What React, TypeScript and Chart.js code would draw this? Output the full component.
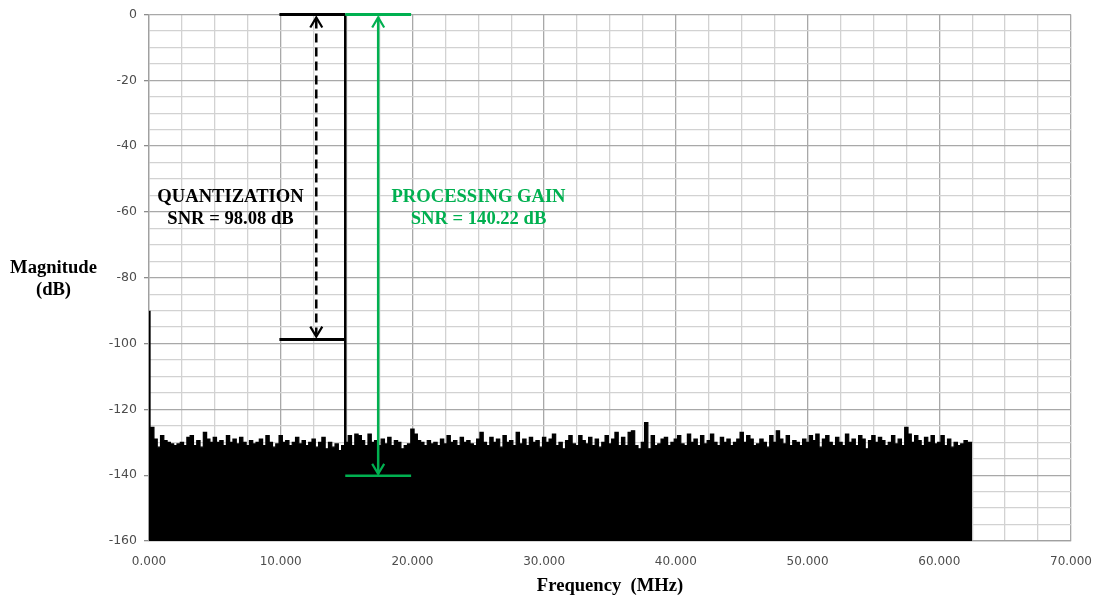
import React, { useEffect, useRef } from "react";
import { Chart, registerables } from "chart.js";

Chart.register(...registerables);

// Noise floor: one value per 0.25 MHz bin from 0 to 62.5 MHz (dB)
const noiseStartMHz = 0;
const noiseStepMHz = 0.25;
const noiseDb = [
  -129.5, -125.5, -129, -131.5, -128, -129.5, -130, -130.5, -131, -130.5,
  -130, -131, -128.5, -128, -131, -129.5, -131.5, -127, -129, -130,
  -128.5, -130, -129.5, -131, -128, -130, -129, -130.5, -128.5, -130,
  -131, -129.5, -130.5, -130, -129, -131, -128, -130, -131.5, -130.5,
  -128, -130, -129.5, -131, -130, -128.5, -130.5, -129.5, -131, -130,
  -129, -131.5, -130, -128.5, -132, -130, -131.5, -130.5, -132.5, -131,
  -130, -128, -131, -127.5, -128, -129.5, -131, -127.5, -130, -129.5,
  -131, -129, -130.5, -128.5, -131, -129.5, -130, -132, -131, -130.5,
  -126, -127.5, -129.5, -130, -131, -129.5, -130.5, -130, -131, -129,
  -130.5, -128, -130, -129.5, -131, -128.5, -130, -129.5, -130.5, -131,
  -129, -127, -130, -131, -128.5, -130, -129, -131.5, -128, -130,
  -129.5, -131, -127, -130.5, -129, -131, -128.5, -130, -129.5, -131.5,
  -128.5, -130, -129, -127.5, -131, -130, -132, -129.5, -128, -130.5,
  -131, -128, -129.5, -130.5, -128.5, -131, -129, -131.5, -130, -128,
  -130.5, -129, -127, -131, -128.5, -131, -127, -126.5, -131, -132,
  -130, -124, -132, -128, -131, -130.5, -129, -128.5, -131, -130,
  -129, -128, -130.5, -131, -127.5, -130, -129, -131, -128, -130.5,
  -129.5, -127.5, -130, -131, -128.5, -130, -129, -131, -130, -129,
  -127, -130, -128, -129, -131, -130.5, -129, -130, -131.5, -128,
  -130, -126.5, -129, -130.5, -128, -131, -129.5, -130, -131, -129,
  -130, -128, -129.5, -127.5, -131.5, -129, -128, -130, -131, -128.5,
  -130, -131, -127.5, -130, -129, -131, -128, -129, -132, -129.5,
  -128, -130, -128.5, -129.5, -131, -130, -128, -130.5, -129, -131,
  -125.5, -127.5, -130, -128, -129.5, -131, -128.5, -130, -128, -130.5,
  -130, -128, -131, -129, -131.5, -130, -131, -130.5, -129.5, -130,
  -130,
];

// Spectral lines: DC bin and the input tone (MHz, dB)
const dcFreqMHz = 0.05;
const dcDb = -90;
const toneFreqMHz = 14.9;
const toneDb = 0;

// Annotation values
const quantBracketMHz = [9.9, 14.9];
const quantLevelsDb = [0, -98.8];
const quantArrowMHz = 12.7;
const gainBracketMHz = [14.9, 19.9];
const gainLevelsDb = [0, -140.2];
const gainArrowMHz = 17.4;
const quantLabel = ["QUANTIZATION", "SNR = 98.08 dB"];
const gainLabel = ["PROCESSING GAIN", "SNR = 140.22 dB"];

const xTitle = "Frequency  (MHz)";
const yTitle = ["Magnitude", "(dB)"];

const xMin = 0, xMax = 70, xMinorStep = 2.5, xMajorStep = 10;
const yMin = -160, yMax = 0, yMinorStep = 5, yMajorStep = 20;

const GREEN = "#00b050";
const MAJOR_GRID = "#a8a8a8";
const MINOR_GRID = "#d2d2d2";

const annotationPlugin = {
  id: "annotations",
  afterDraw(chart: any) {
    const { ctx } = chart;
    const xs = chart.scales.x;
    const ys = chart.scales.y;
    const px = (v: number) => xs.getPixelForValue(v);
    const py = (v: number) => ys.getPixelForValue(v);
    const line = (x1: number, y1: number, x2: number, y2: number) => {
      ctx.beginPath();
      ctx.moveTo(x1, y1);
      ctx.lineTo(x2, y2);
      ctx.stroke();
    };
    const head = (x: number, tipY: number, dir: number) => {
      ctx.beginPath();
      ctx.moveTo(x - 6, tipY + dir * 10);
      ctx.lineTo(x, tipY);
      ctx.lineTo(x + 6, tipY + dir * 10);
      ctx.stroke();
    };
    ctx.save();
    ctx.lineCap = "butt";
    // Quantization bracket
    ctx.strokeStyle = "#000";
    ctx.lineWidth = 3;
    line(px(quantBracketMHz[0]), py(quantLevelsDb[0]), px(quantBracketMHz[1]), py(quantLevelsDb[0]));
    line(px(quantBracketMHz[0]), py(quantLevelsDb[1]), px(quantBracketMHz[1]), py(quantLevelsDb[1]));
    const qx = px(quantArrowMHz);
    const qTop = py(quantLevelsDb[0]) + 3;
    const qBot = py(quantLevelsDb[1]) - 3;
    ctx.lineWidth = 2.5;
    ctx.setLineDash([9, 5]);
    line(qx, qTop + 2, qx, qBot - 2);
    ctx.setLineDash([]);
    ctx.lineWidth = 2.2;
    head(qx, qTop, 1);
    head(qx, qBot, -1);
    // Processing gain bracket
    ctx.strokeStyle = GREEN;
    ctx.lineWidth = 3;
    line(px(gainBracketMHz[0]), py(gainLevelsDb[0]), px(gainBracketMHz[1]), py(gainLevelsDb[0]));
    ctx.lineWidth = 2.5;
    line(px(gainBracketMHz[0]), py(gainLevelsDb[1]), px(gainBracketMHz[1]), py(gainLevelsDb[1]));
    const gx = px(gainArrowMHz);
    const gTop = py(gainLevelsDb[0]) + 3;
    const gBot = py(gainLevelsDb[1]) - 2;
    ctx.lineWidth = 2.5;
    line(gx, gTop, gx, gBot);
    ctx.lineWidth = 2.2;
    head(gx, gTop, 1);
    head(gx, gBot, -1);

    // Texts
    ctx.font = "bold 18.6px 'Liberation Serif', 'Times New Roman', serif";
    ctx.textAlign = "center";
    ctx.textBaseline = "middle";
    ctx.fillStyle = "#000";
    ctx.fillText(quantLabel[0], 230.5, 197);
    ctx.fillText(quantLabel[1], 230.5, 219);
    ctx.fillStyle = GREEN;
    ctx.fillText(gainLabel[0], 478.5, 197);
    ctx.fillText(gainLabel[1], 478.5, 219);
    ctx.fillStyle = "#000";
    ctx.fillText(yTitle[0], 53.5, 268);
    ctx.fillText(yTitle[1], 53.5, 290);
    ctx.fillText(xTitle, 610, 586);
    ctx.restore();
  },
};

export default function App() {
  const ref = useRef<HTMLCanvasElement>(null);
  useEffect(() => {
    if (!ref.current) return;
    const noisePoints = noiseDb.map((v, i) => ({ x: noiseStartMHz + i * noiseStepMHz, y: v }));
    const chart = new Chart(ref.current, {
      type: "line",
      data: {
        datasets: [
          {
            label: "tone",
            data: [{ x: toneFreqMHz, y: yMin }, { x: toneFreqMHz, y: toneDb }],
            borderColor: "#000",
            borderWidth: 2.5,
            pointRadius: 0,
            fill: false,
          },
          {
            label: "dc",
            data: [{ x: dcFreqMHz, y: yMin }, { x: dcFreqMHz, y: dcDb }],
            borderColor: "#000",
            borderWidth: 2,
            pointRadius: 0,
            fill: false,
          },
          {
            label: "noise",
            data: noisePoints,
            borderColor: "#000",
            backgroundColor: "#000",
            borderWidth: 1.2,
            pointRadius: 0,
            stepped: "middle",
            fill: "start",
          },
        ],
      },
      options: {
        responsive: false,
        animation: false,
        events: [],
        layout: { padding: { left: 0, right: 27, top: 14, bottom: 0 } },
        plugins: { legend: { display: false }, tooltip: { enabled: false } },
        scales: {
          x: {
            type: "linear",
            min: xMin,
            max: xMax,
            afterFit: (s: any) => { s.height = 58; },
            ticks: {
              stepSize: xMinorStep,
              autoSkip: false,
              maxRotation: 0,
              padding: 6,
              color: "#4d4d4d",
              font: { family: "'DejaVu Sans', sans-serif", size: 12 },
              callback: (v: any) => (Math.abs(v % xMajorStep) < 1e-6 ? Number(v).toFixed(3) : ""),
            },
            grid: {
              color: (c: any) => (Math.abs(c.tick.value % xMajorStep) < 1e-6 ? MAJOR_GRID : MINOR_GRID),
              lineWidth: 1.3,
              tickLength: 8,
              tickColor: "rgba(0,0,0,0)",
            },
            border: { color: "#a0a0a0", width: 1.3 },
          },
          y: {
            type: "linear",
            min: yMin,
            max: yMax,
            afterFit: (s: any) => { s.width = 149; },
            ticks: {
              stepSize: yMinorStep,
              autoSkip: false,
              padding: 7,
              color: "#4d4d4d",
              font: { family: "'DejaVu Sans', sans-serif", size: 12.5 },
              callback: (v: any) => (Math.abs(v % yMajorStep) < 1e-6 ? String(v) : ""),
            },
            grid: {
              color: (c: any) => (Math.abs(c.tick.value % yMajorStep) < 1e-6 ? MAJOR_GRID : MINOR_GRID),
              lineWidth: 1.3,
              tickLength: 5,
              tickColor: (c: any) => (Math.abs(c.tick.value % yMajorStep) < 1e-6 ? "#8c8c8c" : "rgba(0,0,0,0)"),
            },
            border: { color: "#a0a0a0", width: 1.3 },
          },
        },
      },
      plugins: [annotationPlugin],
    } as any);
    return () => chart.destroy();
  }, []);
  return (
    <div style={{ position: "absolute", left: 0, top: 0, width: 1098, height: 599, background: "#fff" }}>
      <canvas ref={ref} width={1098} height={599} style={{ display: "block" }} />
    </div>
  );
}
